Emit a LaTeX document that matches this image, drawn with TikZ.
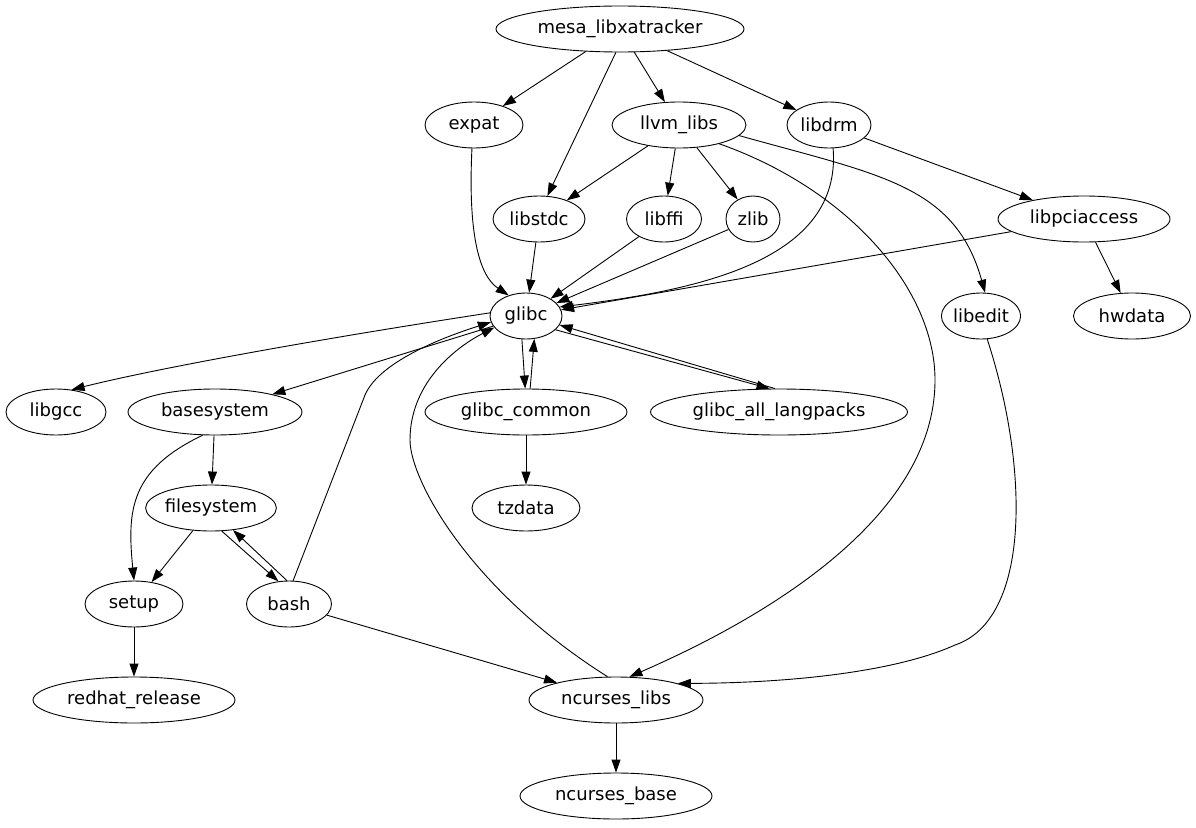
\documentclass[tikz,border=0pt]{standalone}
\usepackage{fontspec}
\setmainfont{DejaVu Sans}
\usetikzlibrary{shapes.geometric,arrows.meta}
\begin{document}
\begin{tikzpicture}[x=1pt,y=-1pt,
  nd/.style={draw,ellipse,line width=0.9pt,inner sep=0pt,minimum height=46pt,font=\fontsize{18}{20}\selectfont},
  ed/.style={line width=0.9pt,-{Triangle[length=13pt,width=9pt]}}]
\useasboundingbox (0,0) rectangle (1196,827);
\node[nd,minimum width=248pt] (mesa) at (620,29) {mesa\_libxatracker};
\node[nd,minimum width=98pt] (expat) at (474,125) {expat};
\node[nd,minimum width=134pt] (llvm) at (679,125) {llvm\_libs};
\node[nd,minimum width=84pt] (libdrm) at (829,125) {libdrm};
\node[nd,minimum width=92pt] (libstdc) at (539,219) {libstdc};
\node[nd,minimum width=75pt] (libffi) at (664,219) {libffi};
\node[nd,minimum width=54pt] (zlib) at (753,219) {zlib};
\node[nd,minimum width=172pt] (pci) at (1084,219) {libpciaccess};
\node[nd,minimum width=72pt] (glibc) at (526,316) {glibc};
\node[nd,minimum width=77pt] (libedit) at (981,316) {libedit};
\node[nd,minimum width=117pt] (hwdata) at (1132,316) {hwdata};
\node[nd,minimum width=100pt] (libgcc) at (56,412) {libgcc};
\node[nd,minimum width=174pt] (base) at (215,412) {basesystem};
\node[nd,minimum width=202pt] (gcommon) at (526,412) {glibc\_common};
\node[nd,minimum width=257pt] (glangs) at (779,412) {glibc\_all\_langpacks};
\node[nd,minimum width=126pt] (fs) at (211,508) {filesystem};
\node[nd,minimum width=108pt] (tz) at (526,508) {tzdata};
\node[nd,minimum width=98pt] (setup) at (134,604) {setup};
\node[nd,minimum width=85pt] (bash) at (289,604) {bash};
\node[nd,minimum width=202pt] (redhat) at (134,700) {redhat\_release};
\node[nd,minimum width=174pt] (ncl) at (616,700) {ncurses\_libs};
\node[nd,minimum width=192pt] (ncb) at (616,796) {ncurses\_base};

\draw[ed] (mesa) -- (expat);
\draw[ed] (mesa.-100) -- (libstdc.70);
\draw[ed] (mesa) -- (llvm);
\draw[ed] (mesa) -- (libdrm);
\draw[ed] (llvm) -- (libstdc);
\draw[ed] (llvm) -- (libffi);
\draw[ed] (llvm) -- (zlib);
\draw[ed] (llvm.-10) .. controls (880,175) and (955,185) .. (libedit.80);
\draw[ed] (llvm.-25) .. controls (850,190) and (935,290) .. (935,380) .. controls (935,520) and (760,620) .. (ncl.60);
\draw[ed] (libdrm) -- (pci);
\draw[ed] (libdrm.-80) .. controls (842,260) and (700,290) .. (glibc.15);
\draw[ed] (expat.-95) .. controls (468,230) and (478,275) .. (glibc.130);
\draw[ed] (libstdc) -- (glibc);
\draw[ed] (libffi) -- (glibc);
\draw[ed] (zlib) -- (glibc);
\draw[ed] (pci) -- (glibc.10);
\draw[ed] (pci) -- (hwdata);
\draw[ed] (glibc.175) .. controls (300,342) and (150,370) .. (libgcc.55);
\draw[ed] (glibc) -- (base);
\draw[ed] (glibc.-100) -- (gcommon.92);
\draw[ed] (gcommon.80) -- (glibc.-70);
\draw[ed] (glibc.-25) -- (glangs.112);
\draw[ed] (glangs.100) -- (glibc.-15);
\draw[ed] (gcommon) -- (tz);
\draw[ed] (base) -- (fs);
\draw[ed] (base.-118) .. controls (130,470) and (127,510) .. (setup.90);
\draw[ed] (fs) -- (setup);
\draw[ed] (fs.-65) -- (bash.115);
\draw[ed] (bash.95) -- (fs.-45);
\draw[ed] (bash.80) -- (365,395) .. controls (380,360) and (450,335) .. (glibc.190);
\draw[ed] (bash) -- (ncl);
\draw[ed] (setup) -- (redhat);
\draw[ed] (ncl.110) .. controls (470,590) and (410,480) .. (410,440) .. controls (410,380) and (460,345) .. (glibc.200);
\draw[ed] (libedit.-75) .. controls (1030,470) and (1030,620) .. (955,645) .. controls (900,670) and (800,683) .. (ncl.15);
\draw[ed] (ncl) -- (ncb);
\end{tikzpicture}
\end{document}
